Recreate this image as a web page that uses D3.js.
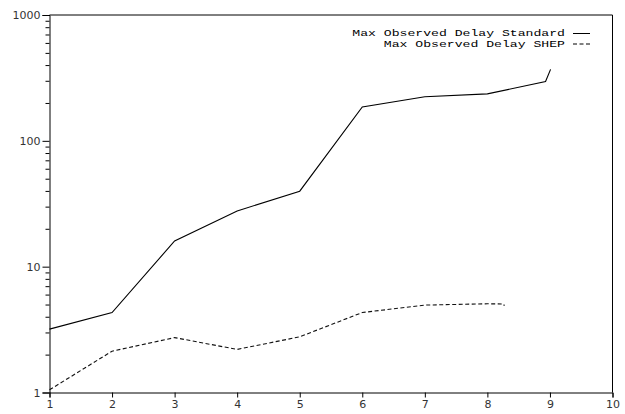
<!DOCTYPE html>
<html>
<head>
<meta charset="utf-8">
<script src="https://cdn.jsdelivr.net/npm/d3@7"></script>
<style>
  html, body { margin: 0; padding: 0; background: #fff; }
  svg { display: block; }
</style>
</head>
<body>
<svg id="chart" width="625" height="414"></svg>
<script>
// Max observed delay per run, standard vs SHEP scheduling
const standardX = [1, 2, 3, 4, 5, 6, 7, 8, 8.93, 9.01];
const standardY = [3.19, 4.32, 16.0, 27.7, 39.8, 186, 224, 236, 296, 370];
const shepX = [1, 2, 3, 4, 5, 6, 7, 8, 8.26, 8.27];
const shepY = [1.05, 2.13, 2.73, 2.2, 2.77, 4.32, 4.95, 5.07, 5.05, 4.88];
const xTicks = [1, 2, 3, 4, 5, 6, 7, 8, 9, 10];
const yMajorTicks = [1, 10, 100, 1000];
const seriesNames = ["Max Observed Delay Standard", "Max Observed Delay SHEP"];

const svg = d3.select("#chart");
const plotLeft = 49.5, plotRight = 612.5, plotTop = 15, plotBottom = 392.5;

const x = d3.scaleLinear().domain([1, 10]).range([plotLeft, plotRight]);
const y = d3.scaleLog().domain([1, 1000]).range([plotBottom, plotTop]);

const yMinor = [];
[1, 10, 100].forEach(d => { for (let k = 2; k <= 9; k++) yMinor.push(d * k); });

const tickFont = "'DejaVu Sans', sans-serif";

// frame (top and right edges)
svg.append("path")
  .attr("d", `M${plotLeft},${plotTop}H${plotRight}V${plotBottom}`)
  .attr("fill", "none").attr("stroke", "#000").attr("stroke-width", 1);

// y axis: major ticks with labels
svg.append("g")
  .attr("transform", `translate(${plotLeft},0)`)
  .call(d3.axisLeft(y).tickValues(yMajorTicks).tickFormat(d3.format("d"))
    .tickSize(7).tickPadding(2));
// y axis: minor ticks
svg.append("g")
  .attr("transform", `translate(${plotLeft},0)`)
  .call(d3.axisLeft(y).tickValues(yMinor).tickFormat("").tickSize(4))
  .call(g => g.select(".domain").remove());

// x axis
svg.append("g")
  .attr("transform", `translate(0,${plotBottom})`)
  .call(d3.axisBottom(x).tickValues(xTicks).tickFormat(d3.format("d"))
    .tickSize(5).tickPadding(3));

svg.selectAll(".tick text")
  .attr("fill", "#333")
  .style("font-family", tickFont)
  .style("font-size", "11px");
svg.selectAll(".domain, .tick line").attr("stroke", "#000");

// series lines
const line = d3.line().x(d => x(d[0])).y(d => y(d[1]));
const standard = standardX.map((v, i) => [v, standardY[i]]);
const shep = shepX.map((v, i) => [v, shepY[i]]);

svg.append("path").datum(standard)
  .attr("d", line).attr("fill", "none")
  .attr("stroke", "#000").attr("stroke-width", 1.1);

svg.append("path").datum(shep)
  .attr("d", line).attr("fill", "none")
  .attr("stroke", "#111").attr("stroke-width", 1.1)
  .attr("stroke-dasharray", "4,2.5");

// legend
const legend = svg.append("g");
const dashes = [null, "4,2.5"];
const sx = 1.46;
seriesNames.forEach((name, i) => {
  const by = 36.5 + i * 10.5;
  legend.append("text")
    .attr("x", 565 / sx).attr("y", by)
    .attr("transform", `scale(${sx},1)`)
    .attr("text-anchor", "end")
    .style("font-family", "'Liberation Mono', 'Courier New', monospace")
    .style("font-size", "9px")
    .attr("fill", "#000")
    .text(name);
  legend.append("line")
    .attr("x1", 573).attr("x2", 590)
    .attr("y1", by - 3).attr("y2", by - 3)
    .attr("stroke", "#000").attr("stroke-width", 1)
    .attr("stroke-dasharray", dashes[i]);
});
</script>
</body>
</html>
